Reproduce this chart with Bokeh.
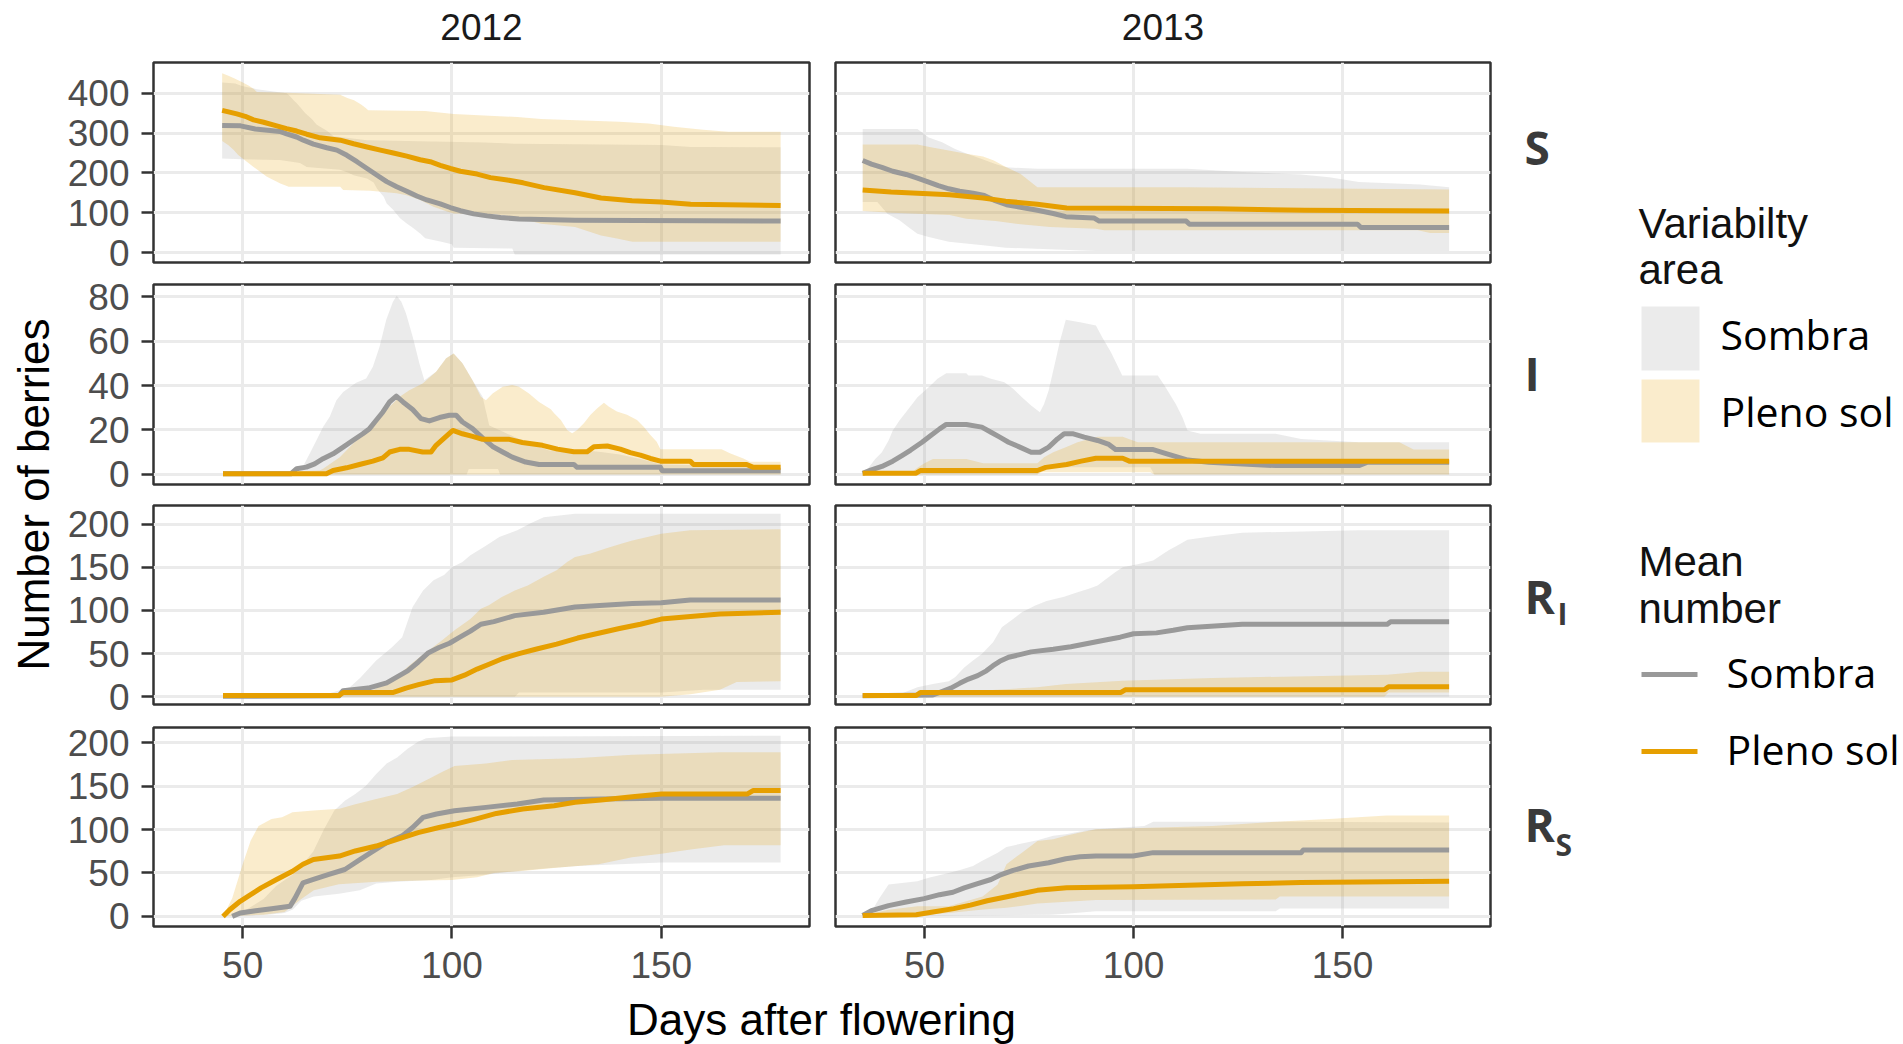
import math
from bokeh.plotting import figure
from bokeh.models import Range1d, LinearAxis, FixedTicker, Grid
from bokeh.layouts import row, column
from bokeh.core.properties import value
from bokeh.embed import file_html
from bokeh.resources import INLINE

# ---------------- data ----------------
years = ["2012", "2013"]
stages = ["S", "I", "R_I", "R_S"]
x_ticks = [50, 100, 150]
y_ticks_S = [0, 100, 200, 300, 400]
y_ticks_I = [0, 20, 40, 60, 80]
y_ticks_RI = [0, 50, 100, 150, 200]
y_ticks_RS = [0, 50, 100, 150, 200]
series_names = ["Sombra", "Pleno sol"]

# ---- S 2012
S12_sombra_mean = [(45.1,319),(49.5,318),(53,310),(58.9,304),(60.5,298),(62.9,290),(64.5,282),(66.9,272),(70.1,263),(72.5,257),(74.9,244),(77.3,228),(79.7,211),(82.1,194),(84.4,178),(86.8,165),(89.2,154),(91.6,142),(94,132),(97.2,122),(99.6,113),(102,105),(105.2,97),(108.4,92),(111.6,88),(116,84),(129.4,81),(178.5,79)]
S12_sol_mean = [(45.1,357),(48.6,348),(50.6,342),(52.6,333),(55,327),(57.7,319),(60.5,311),(62.9,305),(65.3,297),(68.5,288),(73.3,282),(76.5,273),(79.7,265),(82.9,257),(86,250),(89.2,242),(92.4,233),(94.8,228),(97.2,219),(99.6,211),(102,204),(106,197),(109.2,188),(113.2,182),(117,175),(122,163),(129.4,150),(135.6,137),(143,130),(150,127),(157,121),(178.5,118)]
S12_sombra_hi = [(45.1,427),(48.2,424),(49.8,418),(53.4,410),(60.5,400),(61.3,392),(62.1,383),(62.9,375),(63.7,365),(64.9,350),(66.5,335),(67.7,321),(69.3,311),(70.1,306),(71.7,292),(79.7,282),(107.6,276),(114.8,273),(150,270),(157,265),(178.5,264)]
S12_sombra_lo = [(45.1,236),(49.8,234),(58.9,232),(63.7,225),(65.3,215),(73.3,208),(75.3,200),(76.5,194),(79.7,186),(81.3,176),(82.1,160),(83.7,140),(84.4,123),(86,107),(87.6,86),(89.2,73),(90.8,61),(92.4,48),(93.6,36),(97.2,28),(100,21),(100.4,12),(114.4,10),(115,-5),(178.5,-5)]
S12_sol_hi = [(45.1,450),(46.6,444),(48.2,436),(49.8,428),(51.4,419),(52.6,411),(53.4,403),(60.5,401),(73.3,396),(75,388),(76.6,382),(78.2,372),(79.4,363),(80,357),(93.6,355),(100.4,348),(115.6,340),(121.3,335),(140,328),(147,324),(153,316),(160,308),(166,303),(178.5,303)]
S12_sol_lo = [(45.1,280),(46.6,269),(47.8,258),(49,244),(50,236),(52.6,215),(55.8,190),(59,173),(61,165),(73.3,165),(74,157),(80.5,155),(86.8,149),(89.2,144),(92.4,132),(95.6,115),(98.8,103),(100.4,98),(110,96),(114.6,90),(121.3,72),(129.4,64),(135.6,43),(139.4,35),(143.1,27),(178.5,27)]

# ---- S 2013
S13_sombra_mean = [(35.2,231),(37.3,222),(39.8,214),(42.4,204),(45.6,196),(48.3,187),(51,177),(53.3,168),(55.8,160),(58.4,154),(61.6,149),(64.3,143),(66.9,130),(69.6,120),(73.3,113),(77,106),(80.8,98),(83.8,90),(90.5,87),(91.8,79),(112.6,79),(113.4,71),(153.6,71),(154.4,63),(175.5,63)]
S13_sol_mean = [(35.2,157),(42,152),(56,145),(64,137),(69.4,129),(77,121),(84,112),(120,110),(141,106),(175.5,104)]
S13_sombra_hi = [(35.2,310),(48.3,310),(51,289),(54.2,277),(57.3,260),(60.5,247),(63.7,235),(66.9,222),(69.6,214),(77,210),(112.9,210),(126,202),(140.1,196),(146.8,189),(153.9,177),(168.6,171),(175.5,164)]
S13_sombra_lo = [(35.2,127),(38.7,127),(41.2,97),(44,81),(46.1,64),(48.3,47),(51,39),(55.8,27),(64,18),(69.4,12),(91.1,4),(175.5,4)]
S13_sol_hi = [(35.2,271),(48.3,271),(51.5,264),(55.8,256),(60,248),(64,241),(66.6,231),(69,217),(73,197),(77,164),(112,164),(175.5,158)]
S13_sol_lo = [(35.2,104),(42,100),(56,94),(60,85),(67,79),(73,71),(80,64),(91,60),(93,56),(168,56),(171,49),(175.5,49)]

# ---- I 2012
I12_sombra_mean = [(45.3,0.3),(61.5,0.3),(62.9,2.6),(65.2,3.3),(67.2,4.8),(69.2,7.1),(71.6,9.3),(74,12.3),(76.3,15.3),(78.7,18.3),(80.3,20.6),(81.9,24.4),(83.5,28.1),(85.1,32.6),(86.7,35.2),(88.3,32.6),(90.6,29.2),(92.6,25.1),(94.6,24.1),(97,25.6),(99.4,26.6),(101,26.6),(102.5,23.6),(104.9,20.6),(107.3,16.5),(109.7,12.6),(112.1,10.1),(114.4,7.8),(117.6,5.6),(120.8,4.5),(129.1,4.5),(129.9,3.2),(149.8,3.2),(150.2,1.7),(178.5,1.7)]
I12_sol_mean = [(45.3,0.3),(70,0.3),(71.6,1.8),(74.8,3),(77.9,4.5),(81.1,6),(83.5,7.5),(85.1,10.1),(87.5,11.3),(89.8,11.3),(93,10.1),(95,10.1),(96.2,13.1),(98.2,16.5),(100.2,19.8),(102.5,18.3),(104.9,17.1),(107.3,15.8),(113.7,15.8),(116.8,14.4),(121.6,13.1),(125.2,11.4),(129.1,10.2),(132.3,10.2),(133.9,12.5),(137.1,12.8),(140.2,11.4),(142.6,9.8),(145,8.7),(147.4,7.2),(149.8,6),(156.9,6),(157.7,4.5),(170.4,4.5),(172,3.2),(178.5,3.2)]
I12_sombra_hi = [(45.3,0),(62,0),(63.7,1.5),(64.4,3.6),(66,9.3),(67.6,15.3),(69.2,21.4),(70.8,25.9),(72.4,33.4),(74,37.1),(77.1,41.2),(79.5,43.2),(81.1,48.4),(82.7,57.4),(84.3,69.5),(85.9,77.7),(86.8,80.3),(87.9,77.7),(89,72.5),(90.6,62),(92.2,50),(93.4,42.4),(96.2,46.2),(98.6,52.2),(100.4,54.4),(102.5,50),(104.9,42.4),(107.3,34.9),(108.9,22),(116.8,15.3),(123.2,10.8),(131,11),(136,10),(140,9),(145,7),(150,4.5),(178.5,3.5)]
I12_sombra_lo = [(45.3,0),(103.5,0),(104,2.5),(111,2.5),(111.5,0),(178.5,0)]
I12_sol_hi = [(45.3,0),(68.4,1.8),(69.2,2.6),(73.2,7.8),(77.1,15.3),(81.1,22.9),(85.1,30.4),(87.5,34.9),(89.8,37.9),(93,40.9),(96.2,46.2),(98.6,52.2),(100.4,54.4),(102.5,50),(104.9,42.4),(106.9,34.9),(108.1,33.4),(109.7,36.4),(112.1,39.4),(114.4,40.2),(116,39.4),(118.4,36.4),(120.8,32.6),(123.6,29.3),(124.4,27.5),(126,24.5),(127.5,20),(128.7,18.5),(129.9,20),(131.5,23),(133.1,26.8),(134.7,29.8),(136.3,32.3),(137.5,30.5),(139.4,28.3),(141.8,26.8),(144.2,24.5),(145.8,21.5),(147.4,17.7),(148.9,14.7),(149.8,11.3),(164.4,11.3),(166.4,9.5),(169.6,7.2),(171.2,5.7),(178.5,5.7)]
I12_sol_lo = [(45.3,0),(178.5,0)]

# ---- I 2013
I13_sombra_mean = [(35.2,0.5),(37.3,2.1),(39.8,3.6),(42.4,6),(44.6,8.5),(46.7,11),(49.4,14.5),(51.5,17.5),(53.6,20.5),(55.2,22.5),(60,22.5),(63.7,21.3),(65.9,19),(68,16.8),(70.1,14.5),(72.8,12.3),(75.5,10),(77.6,10),(79.7,12.3),(81.8,16),(83.4,18.3),(85.6,18.3),(88.2,16.8),(91.4,15.3),(94.1,13.5),(95.7,11.2),(104.7,11.2),(107.4,9.6),(110.6,7.8),(113,6.5),(118,5.5),(134,4),(153.9,4),(156,5.5),(175.5,5.5)]
I13_sol_mean = [(35.2,0.6),(48,0.6),(49,1.8),(77,1.8),(79,3.2),(84,4.5),(87.5,6),(91,7.3),(97.4,7.3),(99,6),(175.5,6)]
I13_sombra_hi = [(35.2,0),(36.6,3),(38.2,7),(39.8,10),(41.4,15.3),(42.4,19.8),(44,24.3),(46.2,29.5),(48.3,34.7),(51,39.2),(53.1,43),(55.2,45.5),(60,45.5),(60.5,44.5),(63.7,44.5),(65.9,43),(69.1,41.5),(71.2,38.5),(73.3,34.7),(75.5,31),(77.6,28),(78.6,31.7),(79.7,37.7),(80.8,46.7),(82.4,60),(83.8,69.5),(87.2,68.4),(91,67),(92.5,61.7),(94.6,55),(97.3,44.5),(105.8,44.5),(107.4,40),(110.1,31.7),(111.7,25.7),(112.9,19.8),(116,18.3),(134,18.3),(140.1,16),(153.9,14.5),(175.5,14.5)]
I13_sombra_lo = [(35.2,0),(77,0),(78,3.3),(104,3.3),(105,0),(175.5,0)]
I13_sol_hi = [(35.2,0.6),(47,1),(48.3,3),(50,5),(52,7),(60,7),(64,5),(77,5),(78.6,7.8),(80.8,10),(83.8,12.3),(86.6,14.5),(91.4,17),(97.4,17),(101,14.5),(163.6,14.5),(167,11.2),(175.5,11.2)]
I13_sol_lo = [(35.2,0),(77,0),(78,1),(104,1),(105,0),(175.5,0)]

# ---- R_I 2012
RI12_sombra_mean = [(45.3,0.5),(73,1),(74,7),(80,10),(84.4,16),(86.9,23),(89.4,30),(91.9,40),(94.4,51),(96.9,57),(99.4,62),(101.9,69),(104.4,76),(106.9,84),(110,87),(115,94),(121.9,98),(129.4,104),(143.1,108),(150,109),(156.9,112),(178.5,112)]
RI12_sol_mean = [(45.3,1.5),(73,1.5),(74,5),(86,5),(89,10),(92,14),(96,18.6),(100,19.5),(103,25),(106,32),(109,38),(112,44),(116,50),(120,55),(125,61),(130,68),(135,73.6),(140,79),(145,84),(150,90),(157,93),(164,96),(178.5,98)]
RI12_sombra_hi = [(45.3,0),(65,0),(70,3),(75.6,11),(78.1,22),(81.9,42),(85.6,57),(88.1,69),(90.6,104),(93.1,123),(95.6,135),(98.1,141),(100,150),(102.5,156),(104.4,164),(108.1,175),(111.3,185),(115.6,193),(118.8,201),(121.9,208),(129.4,212),(178.5,212)]
RI12_sombra_lo = [(45.3,0),(115,0),(116,5),(150,5),(160,8),(178.5,8)]
RI12_sol_hi = [(45.3,0),(74,2),(80,5),(86,20),(89.5,35),(92,45),(94.4,53.5),(97.5,65),(100.6,77),(104.4,90),(106.9,102),(108.8,106),(111.9,115.5),(115,123),(118.1,129),(121.9,139),(125,146.5),(127.5,156),(129.4,162),(133.1,166),(136.9,172),(140.6,177.5),(143.1,181),(150,189),(156.9,193),(178.5,194)]
RI12_sol_lo = [(45.3,0),(150,0),(157,3),(164,8),(168,17),(178.5,18)]

# ---- R_I 2013
RI13_sombra_mean = [(35.2,1),(52,2),(56.3,10),(58.4,15.5),(60.5,20.5),(62.7,24.4),(64.8,30),(66.4,36),(68,41),(70.1,45.7),(72.8,48.8),(75.5,52),(80.8,55),(85,58),(89.3,62),(93.6,66),(96.8,69),(100,73),(105.5,74),(109.5,77),(112.9,80),(126,84),(160.7,84),(161.5,87),(175.5,87)]
RI13_sol_mean = [(35.2,1.5),(48,1.5),(49,5),(97,5),(98,8),(160,8),(161,11.6),(175.5,11.6)]
RI13_sombra_hi = [(35.2,0),(44,3),(46.2,7),(48.3,11),(52,14.7),(55.8,17.8),(57.3,22.5),(59.5,34),(61.6,42),(63.7,49.6),(66.4,63),(68.5,80.6),(71.2,90),(73.3,98),(76.5,105.8),(79.2,111),(83.4,116),(86.6,121),(89.3,125),(91.4,129),(93.6,137),(95.7,144.6),(97.4,150),(101,153.5),(104.7,158),(106.3,163),(108.5,170),(110.6,175.6),(112.9,182),(118.9,186),(126,190),(153.9,193),(175.5,193)]
RI13_sombra_lo = [(35.2,0),(175.5,0)]
RI13_sol_hi = [(35.2,1.5),(48,3),(60,6),(77,10.9),(83.8,14.7),(97.4,18.6),(118.9,21.7),(160.7,25.6),(168.6,29),(175.5,29)]
RI13_sol_lo = [(35.2,0),(160,0),(161,5),(175.5,5)]

# ---- R_S 2012
RS12_sombra_mean = [(47.5,0),(49.4,3.9),(53.1,6.6),(56.9,8.9),(61.3,11.6),(62.5,21),(64.4,38.6),(66.9,42.5),(70.6,48.3),(74.4,54),(78.1,65.6),(80.6,73.4),(84.4,85),(88.1,92.7),(90.6,102.3),(93.1,114),(96.3,117.8),(100.6,121.6),(108.1,125.5),(115.6,129.3),(121.9,134),(135.6,135),(150,136),(178.5,136)]
RS12_sol_mean = [(45.3,0),(46.9,7.7),(49.4,17.4),(51.9,25),(54.4,32.8),(58.1,42.5),(61.9,52),(64.4,60),(66.9,65.6),(73.1,69.5),(76.9,75.3),(81.9,81),(86.9,88.8),(91.9,96.5),(96.9,102.3),(100.6,106),(105.6,112),(110.6,118.5),(116.9,123.6),(124.4,127.4),(129.4,131.3),(135.6,134),(143.1,137.8),(150,141),(170.6,141),(171.9,144.8),(178.5,144.8)]
RS12_sombra_hi = [(47.5,0),(50,5),(55,20),(58,35),(61.9,48),(64.4,60),(66.9,75),(69.4,100),(71.9,122),(74.4,133),(76.9,141),(79.4,150),(81.9,164),(84.4,176),(86.9,183),(89.4,193),(91.9,201),(93.8,205),(100,207),(178.5,208)]
RS12_sombra_lo = [(47.5,0),(56,2),(60,4),(62,8),(64,18),(67,23),(73,26),(78,30),(81.9,38),(86.9,40),(95,42),(100,45),(108,48),(115,52),(122,55),(130,58),(140,60),(150,62),(178.5,62)]
RS12_sol_hi = [(45.3,0),(47.5,21),(50,60),(51.9,87),(53.8,104),(56.9,112),(59.4,114),(61.9,120),(66.9,122),(73.1,124),(76.9,129),(81.9,135),(86.9,141),(90.6,149),(94.4,158),(97.5,166),(100.6,173),(108.1,176),(114.4,180),(129.4,182),(143.1,186),(164.4,189),(178.5,189)]
RS12_sol_lo = [(45.3,0),(55,2),(60,5),(64,20),(67,30),(73,37),(82,40),(90,41),(100,42),(106,45),(110,50),(116,52),(125,56),(135,60),(143,68),(150,72),(157,77),(165,82),(178.5,82)]

# ---- R_S 2013
RS13_sombra_mean = [(35.2,1),(37.3,6.6),(41.4,12.4),(45.6,16.6),(49.9,20.5),(53.6,25),(56.8,27.8),(59.5,32.8),(62.7,37.8),(65.9,42.5),(68,47.5),(71.2,53),(74.9,58),(79.7,61.8),(83.8,66.4),(87.2,68.7),(91,69.5),(99.9,69.5),(104.7,73.4),(140.1,73.4),(140.6,76.4),(175.5,76.4)]
RS13_sol_mean = [(35.2,1),(48,2),(52,5),(57,9),(61,13),(65,18),(70,23),(74,27),(77,30),(84,33),(100,34),(113,36),(126,37.5),(140,39),(175.5,40.5)]
RS13_sombra_hi = [(35.2,0),(37.1,4),(39.2,21),(41.4,36.7),(48.3,40.5),(51,44.4),(55.8,50),(58.9,54),(61.6,58),(63.7,63.7),(67.5,73.4),(69.6,80),(73.3,83.8),(77,87.6),(80.8,92.7),(83.8,94.6),(87.2,97.7),(91.1,100.4),(102.6,104),(104.7,109),(134,109),(175.5,108)]
RS13_sombra_lo = [(35.2,0),(80,2),(83.8,3),(91,6),(134,6),(135,9),(175.5,9)]
RS13_sol_hi = [(35.2,1),(41.4,7.7),(48.3,11.6),(55.8,11.6),(60,17.4),(63.9,23),(67.5,36.7),(69.6,60),(73.3,73.4),(77,86.9),(80.8,88.8),(83.8,92.7),(87.2,96.5),(91,100.4),(118.9,104),(134,109),(146.8,112),(160.6,116),(175.5,116)]
RS13_sol_lo = [(35.2,0),(48,1),(55.8,4),(60,6),(64,8),(69.6,10),(73,12),(77,15),(91,19),(134,19.5),(135,23),(175.5,23)]

# ---------------- styling / layout ----------------
GREY = "#999999"
ORANGE = "#E69F00"
GRID = "#EBEBEB"
BORDER = "#333333"
TICKTXT = "#4D4D4D"
GG_FONT = "Liberation Sans"
LEG_FONT = "Open Sans"

X_RANGE = (28.7, 185.4)
Y_RANGES = [(-25, 477), (-4.5, 85.4), (-9, 221.6), (-11.6, 217.4)]
Y_TICKS = [y_ticks_S, y_ticks_I, y_ticks_RI, y_ticks_RS]

TOP_H = 50
COL_LEFT = [93, 24]
COL_RIGHT = [2, 2]
FRAME_W = [656, 655]
ROW_TOP = [12, 10, 10, 10]
FRAME_H = [200, 200, 199, 199]
ROW_BOTTOM = [12, 11, 13, 70]
BOTTOM_Y0 = TOP_H + sum(ROW_TOP) + sum(FRAME_H) + sum(ROW_BOTTOM)  # 996

PANEL_DATA = [
    [(S12_sombra_mean, S12_sol_mean, S12_sombra_hi, S12_sombra_lo, S12_sol_hi, S12_sol_lo),
     (S13_sombra_mean, S13_sol_mean, S13_sombra_hi, S13_sombra_lo, S13_sol_hi, S13_sol_lo)],
    [(I12_sombra_mean, I12_sol_mean, I12_sombra_hi, I12_sombra_lo, I12_sol_hi, I12_sol_lo),
     (I13_sombra_mean, I13_sol_mean, I13_sombra_hi, I13_sombra_lo, I13_sol_hi, I13_sol_lo)],
    [(RI12_sombra_mean, RI12_sol_mean, RI12_sombra_hi, RI12_sombra_lo, RI12_sol_hi, RI12_sol_lo),
     (RI13_sombra_mean, RI13_sol_mean, RI13_sombra_hi, RI13_sombra_lo, RI13_sol_hi, RI13_sol_lo)],
    [(RS12_sombra_mean, RS12_sol_mean, RS12_sombra_hi, RS12_sombra_lo, RS12_sol_hi, RS12_sol_lo),
     (RS13_sombra_mean, RS13_sol_mean, RS13_sombra_hi, RS13_sombra_lo, RS13_sol_hi, RS13_sol_lo)],
]


def style_axis(ax, standoff):
    ax.axis_line_color = None
    ax.major_tick_line_color = BORDER
    ax.major_tick_line_width = 2.5
    ax.major_tick_out = 12
    ax.major_tick_in = 0
    ax.minor_tick_line_color = None
    ax.major_label_text_font = GG_FONT
    ax.major_label_text_font_size = "37px"
    ax.major_label_text_color = TICKTXT
    ax.major_label_standoff = standoff


def ribbon(p, hi, lo, color):
    xs = [a for a, b in hi] + [a for a, b in reversed(lo)]
    ys = [b for a, b in hi] + [b for a, b in reversed(lo)]
    p.patch(xs, ys, fill_color=color, fill_alpha=0.2, line_color=None)


def mean_line(p, pts, color):
    p.line([a for a, b in pts], [b for a, b in pts], line_color=color,
           line_width=5, line_join="round")


def make_panel(r, c):
    w = COL_LEFT[c] + FRAME_W[c] + COL_RIGHT[c]
    h = ROW_TOP[r] + FRAME_H[r] + ROW_BOTTOM[r]
    p = figure(width=w, height=h, x_range=Range1d(*X_RANGE), y_range=Range1d(*Y_RANGES[r]),
               x_axis_type=None, y_axis_type=None, output_backend="svg",
               toolbar_location=None, title=None,
               min_border_left=COL_LEFT[c], min_border_right=COL_RIGHT[c],
               min_border_top=ROW_TOP[r], min_border_bottom=ROW_BOTTOM[r])
    p.background_fill_color = "white"
    p.border_fill_color = "white"
    p.outline_line_color = BORDER
    p.outline_line_width = 2.5
    p.add_layout(Grid(dimension=0, ticker=FixedTicker(ticks=x_ticks),
                      grid_line_color=GRID, grid_line_width=3))
    p.add_layout(Grid(dimension=1, ticker=FixedTicker(ticks=Y_TICKS[r]),
                      grid_line_color=GRID, grid_line_width=3))
    if c == 0:
        ya = LinearAxis(ticker=FixedTicker(ticks=Y_TICKS[r]))
        style_axis(ya, 12)
        p.add_layout(ya, "left")
    if r == 3:
        xa = LinearAxis(ticker=FixedTicker(ticks=x_ticks))
        style_axis(xa, 13)
        p.add_layout(xa, "below")
    sm, om, shi, slo, ohi, olo = PANEL_DATA[r][c]
    ribbon(p, shi, slo, GREY)
    ribbon(p, ohi, olo, ORANGE)
    mean_line(p, sm, GREY)
    mean_line(p, om, ORANGE)
    return p


def canvas_fig(x0, x1, y0, y1):
    p = figure(width=x1 - x0, height=y1 - y0, x_range=Range1d(x0, x1), y_range=Range1d(y1, y0),
               x_axis_type=None, y_axis_type=None, output_backend="svg",
               toolbar_location=None, title=None,
               min_border_left=0, min_border_right=0, min_border_top=0, min_border_bottom=0)
    p.outline_line_color = None
    p.background_fill_color = "white"
    p.border_fill_color = "white"
    return p


cols = [[make_panel(r, c) for r in range(4)] for c in range(2)]

# top strip with year labels
top = canvas_fig(0, 1903, 0, TOP_H)
top.text(x=[481, 1162.5], y=[26, 26], text=years, text_font=value(GG_FONT),
         text_font_size="37px", text_color="#1A1A1A", text_align="center",
         text_baseline="alphabetic")

# left strip with y title
left = canvas_fig(0, 60, TOP_H, BOTTOM_Y0)
left.text(x=[33], y=[494], text=["Number of berries"], angle=math.pi / 2,
          text_font=value(GG_FONT), text_font_size="44px", text_color="#000000",
          text_align="center", text_baseline="middle")

# right strip: facet labels and legend
right = canvas_fig(1492, 1903, TOP_H, BOTTOM_Y0)
right.text(x=[1524, 1524, 1524, 1524], y=[146, 372, 595, 823], text=["S", "I", "R", "R"],
           text_font=value(LEG_FONT), text_font_size="46px", text_font_style="bold",
           text_color="#3A3A3A", text_align="left", text_baseline="alphabetic")
right.text(x=[1557, 1555], y=[613, 844], text=["I", "S"],
           text_font=value(LEG_FONT), text_font_size="30px", text_font_style="bold",
           text_color="#3A3A3A", text_align="left", text_baseline="alphabetic")
right.text(x=[1638, 1638, 1638, 1638], y=[223, 269, 561, 608],
           text=["Variabilty", "area", "Mean", "number"], text_font=value(GG_FONT),
           text_font_size="42px", text_color="#111111", text_align="left",
           text_baseline="alphabetic")
right.quad(left=[1641], right=[1699], top=[306], bottom=[370], fill_color=GREY,
           fill_alpha=0.2, line_color=None)
right.quad(left=[1641], right=[1699], top=[379], bottom=[442], fill_color=ORANGE,
           fill_alpha=0.2, line_color=None)
right.line([1641, 1697], [674, 674], line_color=GREY, line_width=5)
right.line([1641, 1697], [751, 751], line_color=ORANGE, line_width=5)
right.text(x=[1720, 1720, 1726, 1726], y=[333, 410, 671, 748],
           text=series_names + series_names, text_font=value(LEG_FONT),
           text_font_size="41px", text_color="#000000", text_align="left",
           text_baseline="alphabetic")

# bottom strip with x title
bottom = canvas_fig(0, 1903, BOTTOM_Y0, 1044)
bottom.text(x=[821], y=[1019], text=["Days after flowering"], text_font=value(GG_FONT),
            text_font_size="44px", text_color="#000000", text_align="center",
            text_baseline="alphabetic")

layout = column(top,
                row(left, column(*cols[0], spacing=0), column(*cols[1], spacing=0), right, spacing=0),
                bottom, spacing=0)

open("out.html", "w").write(file_html(layout, INLINE))
